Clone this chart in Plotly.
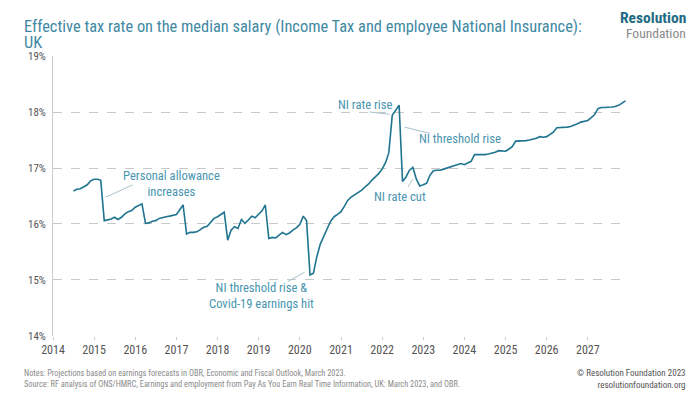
import plotly.graph_objects as go
import pandas as pd

# Monthly effective tax rate (%), July 2014 - December 2027
start_month = "2014-07-01"
rate_2014 = [16.59, 16.62, 16.63, 16.66, 16.70, 16.77]
rate_2015 = [16.80, 16.80, 16.78, 16.06, 16.07, 16.09, 16.12, 16.08, 16.12, 16.18, 16.22, 16.24]
rate_2016 = [16.30, 16.33, 16.36, 16.01, 16.02, 16.05, 16.06, 16.10, 16.12, 16.13, 16.14, 16.15]
rate_2017 = [16.17, 16.26, 16.34, 15.82, 15.85, 15.85, 15.86, 15.90, 15.94, 15.96, 16.04, 16.10]
rate_2018 = [16.13, 16.17, 16.21, 15.71, 15.89, 15.95, 15.92, 16.08, 16.01, 16.07, 16.14, 16.11]
rate_2019 = [16.18, 16.24, 16.34, 15.74, 15.76, 15.75, 15.80, 15.85, 15.81, 15.84, 15.89, 15.93]
rate_2020 = [15.99, 16.14, 16.06, 15.09, 15.12, 15.42, 15.64, 15.79, 15.92, 16.05, 16.13, 16.17]
rate_2021 = [16.22, 16.32, 16.42, 16.48, 16.52, 16.56, 16.60, 16.66, 16.71, 16.78, 16.84, 16.90]
rate_2022 = [16.98, 17.10, 17.27, 17.94, 18.03, 18.12, 16.76, 16.84, 16.96, 17.01, 16.80, 16.68]
rate_2023 = [16.70, 16.73, 16.87, 16.95, 16.96, 16.96, 16.98, 17.00, 17.02, 17.03, 17.06, 17.08]
rate_2024 = [17.06, 17.09, 17.12, 17.24, 17.24, 17.23, 17.24, 17.25, 17.26, 17.28, 17.31, 17.31]
rate_2025 = [17.30, 17.34, 17.38, 17.48, 17.48, 17.48, 17.49, 17.50, 17.51, 17.53, 17.56, 17.55]
rate_2026 = [17.56, 17.60, 17.64, 17.72, 17.72, 17.72, 17.73, 17.74, 17.76, 17.79, 17.82, 17.84]
rate_2027 = [17.85, 17.90, 17.95, 18.06, 18.08, 18.08, 18.08, 18.09, 18.10, 18.12, 18.16, 18.20]

rates = (rate_2014 + rate_2015 + rate_2016 + rate_2017 + rate_2018 + rate_2019 + rate_2020
         + rate_2021 + rate_2022 + rate_2023 + rate_2024 + rate_2025 + rate_2026 + rate_2027)
months = pd.date_range(start_month, periods=len(rates), freq="MS")

y_ticks = [14, 15, 16, 17, 18, 19]
y_tick_labels = ["14%", "15%", "16%", "17%", "18%", "19%"]

FONT = "Roboto Condensed, Roboto, sans-serif"
LINE = "#1f7490"
NOTE = "#4a95b0"
LEADER = "#a9c3cc"

# annotations: (text, x date, y value), leaders: ((x0, y0), (x1, y1))
notes = [
    ("Personal allowance<br>increases", "2016-11-20", 16.72),
    ("NI threshold rise &<br>Covid-19 earnings hit", "2019-01-30", 14.72),
    ("NI rate rise", "2021-07-30", 18.14),
    ("NI threshold rise", "2023-11-20", 17.52),
    ("NI rate cut", "2022-06-10", 16.50),
]
leaders = [
    (("2015-12-10", 16.70), ("2015-04-16", 16.48)),
    (("2020-02-14", 15.14), ("2019-09-16", 14.97)),
    (("2021-09-13", 18.00), ("2022-03-10", 17.96)),
    (("2022-07-20", 17.73), ("2023-03-01", 17.62)),
    (("2022-08-18", 16.66), ("2022-10-01", 16.80)),
]

fig = go.Figure()
fig.add_trace(go.Scatter(x=months, y=rates, mode="lines",
                         line=dict(color=LINE, width=1.6), hoverinfo="skip", showlegend=False))

for (x0, y0), (x1, y1) in leaders:
    fig.add_shape(type="line", xref="x", yref="y", x0=x0, y0=y0, x1=x1, y1=y1,
                  line=dict(color=LEADER, width=1))

for text, x, y in notes:
    fig.add_annotation(x=x, y=y, xref="x", yref="y", text=text, showarrow=False,
                       font=dict(family=FONT, size=12.6, color=NOTE), align="center")

# The page body has an 8px margin, so the figure is sized to fit inside the window.
fig.update_layout(
    width=692, height=385,
    margin=dict(l=45, r=73, t=48, b=57),
    paper_bgcolor="white", plot_bgcolor="white",
    font=dict(family=FONT, color="#555555"),
    showlegend=False,
    xaxis=dict(
        type="date",
        range=["2014-01-01", "2027-12-15"],
        dtick="M12", tick0="2014-01-01", tickformat="%Y",
        showgrid=False, showline=False, zeroline=False,
        ticks="outside", ticklen=3, tickcolor="#cccccc",
        tickfont=dict(family=FONT, size=12, color="#555555"),
    ),
    yaxis=dict(
        range=[13.999, 19.001],
        tickvals=y_ticks, ticktext=y_tick_labels,
        showgrid=True, gridcolor="#c8c8c8", griddash="dash", gridwidth=1,
        showline=True, linecolor="#cccccc", linewidth=1,
        zeroline=False, ticks="", ticklabelstandoff=4,
        tickfont=dict(family=FONT, size=11, color="#555555"),
    ),
)

# title and branding
TITLE_COLOR = "#3f89a3"
fig.add_annotation(xref="paper", yref="paper", x=0, y=1, xshift=-31, yshift=30, xanchor="left", yanchor="middle",
                   text="Effective tax rate on the median salary (Income Tax and employee National Insurance):",
                   showarrow=False, font=dict(family=FONT, size=16.4, color=TITLE_COLOR))
fig.add_annotation(xref="paper", yref="paper", x=0, y=1, xshift=-31, yshift=14, xanchor="left", yanchor="middle",
                   text="UK", showarrow=False, font=dict(family=FONT, size=16.4, color=TITLE_COLOR))
fig.add_annotation(xref="paper", yref="paper", x=1, y=1, xshift=61, yshift=38, xanchor="right", yanchor="middle",
                   text="<b>Resolution</b>", showarrow=False,
                   font=dict(family=FONT, size=15.5, color="#1e6b84"))
fig.add_annotation(xref="paper", yref="paper", x=1, y=1, xshift=61, yshift=23, xanchor="right", yanchor="middle",
                   text="Foundation", showarrow=False,
                   font=dict(family=FONT, size=13.5, color="#8a8a8a"))
# footer
fig.add_annotation(xref="paper", yref="paper", x=0, y=0, xshift=-31, yshift=-30, xanchor="left", yanchor="top",
                   text="Notes: Projections based on earnings forecasts in OBR, Economic and Fiscal Outlook, March 2023.<br>"
                        "Source: RF analysis of ONS/HMRC, Earnings and employment from Pay As You Earn Real Time Information, UK: March 2023, and OBR.",
                   align="left", showarrow=False,
                   font=dict(family=FONT, size=8.3, color="#8a8a8a"))
fig.add_annotation(xref="paper", yref="paper", x=1, y=0, xshift=61, yshift=-30, xanchor="right", yanchor="top",
                   text="© Resolution Foundation 2023<br>resolutionfoundation.org",
                   align="right", showarrow=False,
                   font=dict(family=FONT, size=9, color="#555555"))

fig.write_html("out.html")
